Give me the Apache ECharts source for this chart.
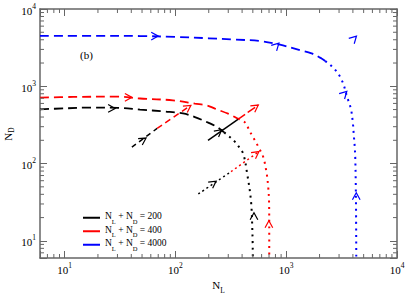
<!DOCTYPE html>
<html><head><meta charset="utf-8">
<script src="https://cdn.jsdelivr.net/npm/echarts@6/dist/echarts.min.js"></script>
<style>html,body{margin:0;padding:0;background:#fff}#c{width:407px;height:294px}</style>
</head><body><div id="c"></div>
<script>
// ---- data (N_L, N_D) ----
const blackDashed = [[6,503],[10,518],[17,530],[30,526],[48,500],[80,472],[117,446],[150,400],[200,336],[240,295],[275,253]];
const blackDotted = [[275,253],[300,230],[340,195],[370,168],[410,133],[443,76],[481,33],[496,12.3],[500,6]];
const redDashed = [[6,713],[12,728],[30,735],[48,695],[95,658],[150,596],[193,565],[228,513],[299,442],[367,380]];
const redDotted = [[367,380],[424,341],[471,258],[522,200],[560,165],[621,121],[666,75],[688,50],[700,33],[703,15],[703,6]];
const blueDashed = [[6,4500],[20,4500],[48,4470],[100,4350],[200,4180],[331,4035],[580,3850],[877,3450],[1327,2935],[1693,2660],[2083,2292],[2250,2120]];
const blueDotted = [[2250,2120],[2477,1914],[2749,1649],[2941,1462],[3155,1222],[3311,1031],[3546,727],[3830,517],[3992,341],[4077,231],[4159,162],[4200,120],[4240,60],[4270,25],[4290,6]];

// short trajectories
const traj1Black = [[40.5,163],[68.4,285]];
const traj1Red = [[68.4,285],[138,566]];
const traj2Black = [[197,199],[367,373]];
const traj2Red = [[367,373],[560,572]];
const traj3Black = [[161,40.4],[318,78.7]];
const traj3Red = [[318,78.7],[568,143]];

// arrowheads: [N_L, N_D, angleDeg, fromN_L, fromN_D] (from=0 -> use angle)
const blackArrows = [[28.6,517,0,0,0],[512,23.1,90,0,0],[54.4,214,0,40.5,163],[262,274,0,197,199],[233,59.3,0,161,40.4]];
const redArrows = [[40.5,719,0,0,0],[698,18.2,90,0,0]];
const blueArrows = [[70,4460,0,0,0],[859,3615,45,0,0],[4306,4460,45,0,0],[3525,861,45,0,0],[4290,42,90,0,0]];

const legendNames = ['N_L + N_D = 200','N_L + N_D = 400','N_L + N_D = 4000'];
const minorTicks = [7,8,9,20,30,40,50,60,70,80,90,200,300,400,500,600,700,800,900,2000,3000,4000,5000,6000,7000,8000,9000];
const axisMin = 6, axisMax = 10000;

// trajectory end arrows from their last segment
[traj1Red, traj2Red, traj3Red].forEach(t => {
  const a = t[t.length-1], b = t[t.length-2];
  redArrows.push([a[0], a[1], 0, b[0], b[1]]);
});

const FONT = 'Liberation Serif';
const C = {k:'#000000', r:'#ff0000', b:'#0000ff'};
const AX = '#666666';

function expLabel(v){
  const e = Math.log10(v), r = Math.round(e);
  if (Math.abs(e - r) > 1e-6) return '';
  return '{b|10}{e|' + r + '}';
}
const labelRich = {
  b:{fontSize:11, fontFamily:FONT, color:'#000', lineHeight:14, verticalAlign:'bottom'},
  e:{fontSize:7.5, fontFamily:FONT, color:'#000', lineHeight:14, verticalAlign:'top'}
};
const subRich = {
  n:{fontSize:11, fontFamily:FONT, color:'#000', lineHeight:15, verticalAlign:'top'},
  s:{fontSize:7.5, fontFamily:FONT, color:'#000', lineHeight:15, verticalAlign:'bottom'}
};
const subRichY = {
  n:{fontSize:11, fontFamily:FONT, color:'#000', lineHeight:13, verticalAlign:'top'},
  s:{fontSize:7.5, fontFamily:FONT, color:'#000', lineHeight:13, verticalAlign:'bottom'}
};

function arrowRender(params, api){
  const tip = api.coord([api.value(0), api.value(1)]);
  let ang;
  const fx = api.value(3);
  if (fx > 0) {
    const f = api.coord([fx, api.value(4)]);
    ang = Math.atan2(tip[1]-f[1], tip[0]-f[0]);
  } else {
    ang = -api.value(2) * Math.PI / 180;
  }
  const L = 8, h = 0.5;
  const b1 = [tip[0]-L*Math.cos(ang-h), tip[1]-L*Math.sin(ang-h)];
  const b2 = [tip[0]-L*Math.cos(ang+h), tip[1]-L*Math.sin(ang+h)];
  return {type:'polyline', shape:{points:[b1, tip, b2]},
    style:{stroke: api.visual('color'), fill:null, lineWidth:1.2}};
}
function arrowSeries(data, color){
  return {type:'custom', data:data, dimensions:['x','y','a','fx','fy'], encode:{x:0,y:1},
    itemStyle:{color:color}, renderItem:arrowRender, clip:false, silent:true, z:5};
}
function lineSeries(name, data, color, width, dash){
  return {type:'line', name:name, data:data, showSymbol:false, symbol:'none', smooth:0.35,
    itemStyle:{color:color}, lineStyle:{color:color, width:width, type:dash, cap:'butt'}, silent:true, z:3};
}
const DASH = [9,5], DOT = [2,4.5];

function tickLine(x1,y1,x2,y2){
  return {type:'line', shape:{x1:x1,y1:y1,x2:x2,y2:y2}, style:{stroke:AX, lineWidth:1}};
}

const axisCommon = {
  type:'log', logBase:10, min:axisMin, max:axisMax,
  axisLine:{show:true, lineStyle:{color:AX, width:1.5}},
  axisTick:{show:true, inside:true, length:7, lineStyle:{color:AX, width:1}},
  minorTick:{show:false}, splitLine:{show:false}
};

const option = {
  animation:false,
  backgroundColor:'#ffffff',
  title:{text:'(b)', left:75, top:44, textStyle:{fontFamily:FONT, fontSize:11, fontWeight:'normal', color:'#000'}},
  grid:{left:40, right:10, top:9, bottom:36, containLabel:false, outerBoundsMode:'none'},
  graphic:[{type:'text', x:9, y:134, rotation:Math.PI/2, silent:true,
    style:{text:'{n|N}{s|D}', rich:subRichY, align:'center', verticalAlign:'middle'}}],
  legend:{
    orient:'vertical', left:78, top:206, itemWidth:17, itemHeight:2, itemGap:0,
    icon:'rect', data:legendNames, selectedMode:false,
    formatter: n => '{n|N}{s|L}{n| + N}{s|D}{n| = ' + n.split('= ')[1] + '}',
    textStyle:{fontFamily:FONT, fontSize:9.5, rich:{
      n:{fontSize:9.5, fontFamily:FONT, color:'#000', lineHeight:13.5, verticalAlign:'top'},
      s:{fontSize:6.5, fontFamily:FONT, color:'#000', lineHeight:13.5, verticalAlign:'bottom'}}}
  },
  xAxis:[
    Object.assign({}, axisCommon, {position:'bottom', name:'{n|N}{s|L}', nameLocation:'middle', nameGap:18,
      nameTextStyle:{rich:subRich},
      axisLabel:{formatter:expLabel, margin:3, rich:labelRich, showMaxLabel:true, showMinLabel:true}}),
    Object.assign({}, axisCommon, {position:'top', axisLabel:{show:false}})
  ],
  yAxis:[
    Object.assign({}, axisCommon, {position:'left',
      axisLabel:{formatter:expLabel, margin:4, rich:labelRich, showMaxLabel:true, showMinLabel:true}}),
    Object.assign({}, axisCommon, {position:'right', axisLabel:{show:false}})
  ],
  series:[
    lineSeries(legendNames[0], blackDashed, C.k, 1.8, DASH),
    lineSeries('black dotted', blackDotted, C.k, 2, DOT),
    lineSeries(legendNames[1], redDashed, C.r, 1.8, DASH),
    lineSeries('red dotted', redDotted, C.r, 2, DOT),
    lineSeries(legendNames[2], blueDashed, C.b, 1.8, DASH),
    lineSeries('blue dotted', blueDotted, C.b, 2, DOT),
    lineSeries('t1k', traj1Black, C.k, 1.5, [5,4]),
    lineSeries('t1r', traj1Red, C.r, 1.5, [6,4]),
    lineSeries('t2k', traj2Black, C.k, 1.5, 'solid'),
    lineSeries('t2r', traj2Red, C.r, 1.5, [9,3]),
    lineSeries('t3k', traj3Black, C.k, 1.5, [2,3]),
    lineSeries('t3r', traj3Red, C.r, 1.5, [2,3]),
    arrowSeries(blackArrows, C.k),
    arrowSeries(redArrows, C.r),
    arrowSeries(blueArrows, C.b),
    {type:'custom', data:minorTicks.map(v => [v, axisMin]), clip:false, silent:true, z:4,
      renderItem:(params, api) => {
        const cs = params.coordSys; const p = api.coord([api.value(0), api.value(1)]);
        return {type:'group', children:[
          tickLine(p[0], cs.y+cs.height, p[0], cs.y+cs.height-4),
          tickLine(p[0], cs.y, p[0], cs.y+4)]};
      }},
    {type:'custom', data:minorTicks.map(v => [axisMin, v]), clip:false, silent:true, z:4,
      renderItem:(params, api) => {
        const cs = params.coordSys; const p = api.coord([api.value(0), api.value(1)]);
        return {type:'group', children:[
          tickLine(cs.x, p[1], cs.x+4, p[1]),
          tickLine(cs.x+cs.width, p[1], cs.x+cs.width-4, p[1])]};
      }}
  ]
};
const chart = echarts.init(document.getElementById('c'), null, {renderer:'svg', width:407, height:294});
chart.setOption(option);
</script></body></html>
